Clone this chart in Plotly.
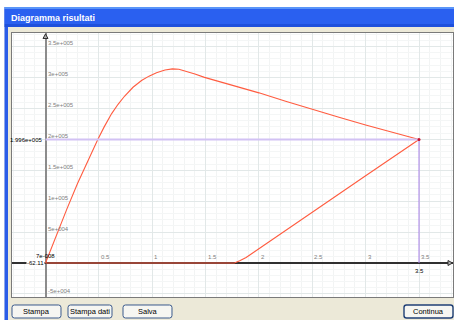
import plotly.graph_objects as go

W, H = 454, 320

# loading branch: displacement vs force
x_load = [0.00, 0.10, 0.20, 0.30, 0.40, 0.49, 0.55, 0.62, 0.68, 0.74, 0.82, 0.90,
          0.97, 1.04, 1.12, 1.19, 1.25, 1.32, 1.40, 1.49, 1.75, 2.00, 2.25, 2.50,
          2.75, 3.00, 3.25, 3.50]
y_load = [0, 44000, 87000, 128500, 167000, 199600, 220000, 241500, 256500, 269500,
          284000, 295000, 302000, 307500, 311800, 313800, 313200, 310000, 305500,
          300000, 287500, 275000, 261500, 248000, 235500, 223000, 211000, 199600]

# unloading branch back to the axis
x_unload = [3.50, 3.00, 2.50, 2.10, 2.02, 1.95, 1.88, 1.82, 1.77]
y_unload = [199600, 141000, 82000, 34000, 25000, 17000, 9000, 3500, 0]

base_level = -62.11
x_result = 3.5
y_result = 199600.0

x_ticks = [0.5, 1, 1.5, 2, 2.5, 3, 3.5]
x_tick_text = ["0.5", "1", "1.5", "2", "2.5", "3", "3.5"]
y_ticks = [350000, 300000, 250000, 200000, 150000, 100000, 50000, -50000]
y_tick_text = ["3.5e+005", "3e+005", "2.5e+005", "2e+005", "1.5e+005",
               "1e+005", "5e+004", "-5e+004"]
origin_text = "7e-008"

window_title = "Diagramma risultati"
button_labels = ["Stampa", "Stampa dati", "Salva", "Continua"]
button_spans = [(12, 61), (68, 112), (123, 172), (404, 453)]

# plot rectangle inside the dialog, in pixels
PL, PR, PT, PB = 12, 453, 33, 297
X0_PX, X_SCALE = 45.5, (419 - 45.5) / 3.5
Y0_PX, Y_SCALE = 263.0, (263.0 - 139.5) / 199600.0

x_range = [(PL - X0_PX) / X_SCALE, (PR - X0_PX) / X_SCALE]
y_range = [-(PB - Y0_PX) / Y_SCALE, (Y0_PX - PT) / Y_SCALE]


def px(x):
    return x / W


def py(y):
    return 1 - y / H


def rect(x0, y0, x1, y1, fill, line=None, lw=0):
    return dict(type="rect", xref="paper", yref="paper", x0=px(x0), x1=px(x1),
                y0=py(y1), y1=py(y0), fillcolor=fill,
                line=dict(color=line or fill, width=lw), layer="above")


def rrect_path(x0, y0, x1, y1, r):
    pts = [("M", x0 + r, y0), ("L", x1 - r, y0), ("Q", x1, y0, x1, y0 + r),
           ("L", x1, y1 - r), ("Q", x1, y1, x1 - r, y1), ("L", x0 + r, y1),
           ("Q", x0, y1, x0, y1 - r), ("L", x0, y0 + r), ("Q", x0, y0, x0 + r, y0)]
    out = []
    for p in pts:
        cmd, vals = p[0], p[1:]
        coords = []
        for i in range(0, len(vals), 2):
            coords.append(f"{px(vals[i]):.5f},{py(vals[i + 1]):.5f}")
        out.append(cmd + " ".join(coords))
    return " ".join(out) + " Z"


def tri_path(points):
    s = "M" + " L".join(f"{px(a):.5f},{py(b):.5f}" for a, b in points)
    return s + " Z"


fig = go.Figure()

# red response curve: load, unload, return along the base
curve_x = x_load + x_unload[1:] + [x_unload[-1], 0.0]
curve_y = y_load + y_unload[1:] + [base_level, base_level]
fig.add_trace(go.Scatter(x=curve_x, y=curve_y, mode="lines",
                         line=dict(color="#ff5c40", width=1.1), hoverinfo="skip"))

# result guides
fig.add_trace(go.Scatter(x=[0, x_result], y=[y_result, y_result], mode="lines",
                         line=dict(color="#d2c2f4", width=2), hoverinfo="skip"))
fig.add_trace(go.Scatter(x=[x_result, x_result], y=[0, y_result], mode="lines",
                         line=dict(color="#a880e8", width=1), hoverinfo="skip"))
fig.add_trace(go.Scatter(x=[x_result], y=[y_result], mode="markers",
                         marker=dict(color="#c8102e", size=3), hoverinfo="skip"))

shapes = []
# outer area, window frame and title bar
shapes.append(rect(0, 0, W, 7, "#ffffff"))
shapes.append(rect(0, 0, 4.5, H, "#ffffff"))
shapes.append(rect(4.5, 7, 8, H, "#2a5ce8"))
shapes.append(rect(4.5, 7, W, 9, "#5a95f8"))
shapes.append(rect(4.5, 9, W, 24, "#2a60f0"))
shapes.append(rect(4.5, 24, W, 27, "#1e50dc"))
# axis arrowheads
shapes.append(dict(type="path", xref="paper", yref="paper",
                   path=tri_path([(X0_PX, 34), (43, 38.5), (48, 38.5)]),
                   fillcolor="#b0b0b0", line=dict(color="#303030", width=1), layer="above"))
shapes.append(dict(type="path", xref="paper", yref="paper",
                   path=tri_path([(452.5, Y0_PX), (448, 260.5), (448, 265.5)]),
                   fillcolor="#b0b0b0", line=dict(color="#303030", width=1), layer="above"))
# buttons
for i, (bx0, bx1) in enumerate(button_spans):
    default = button_labels[i] == "Continua"
    shapes.append(dict(type="path", xref="paper", yref="paper",
                       path=rrect_path(bx0, 305, bx1, 318, 2.5),
                       fillcolor="#f6f6f2",
                       line=dict(color="#1f3f75" if default else "#3a5a8c", width=1.4 if default else 1),
                       layer="above"))

annotations = []
ann_font = dict(family="Liberation Sans, Arial, sans-serif", size=6, color="#808080")
for v, t in zip(x_ticks, x_tick_text):
    annotations.append(dict(x=v, y=0, xref="x", yref="y", text=t, showarrow=False,
                            xanchor="left", yanchor="bottom", yshift=1, font=ann_font))
for v, t in zip(y_ticks, y_tick_text):
    annotations.append(dict(x=0, y=v, xref="x", yref="y", text=t, showarrow=False,
                            xanchor="left", yanchor="bottom", xshift=0, yshift=-2,
                            font=ann_font))
blk = dict(family="Liberation Sans, Arial, sans-serif", size=6, color="#000000")
annotations.append(dict(x=0, y=0, xref="x", yref="y", text=origin_text, showarrow=False,
                        xanchor="center", yanchor="bottom", yshift=2, font=blk))
annotations.append(dict(x=0, y=y_result, xref="x", yref="y", text="1.996e+005",
                        showarrow=False, xanchor="right", yanchor="middle", xshift=-1,
                        font=blk))
annotations.append(dict(x=0, y=base_level, xref="x", yref="y", text="-62.11",
                        showarrow=False, xanchor="right", yanchor="middle", xshift=-1,
                        bgcolor="#ffffff", borderpad=0, font=blk))
annotations.append(dict(x=x_result, y=0, xref="x", yref="y", text="3.5", showarrow=False,
                        xanchor="center", yanchor="top", yshift=-3, font=blk))
# window title
annotations.append(dict(x=px(9), y=py(17.5), xref="paper", yref="paper", text=window_title,
                        showarrow=False, xanchor="left", yanchor="middle",
                        font=dict(family="Liberation Sans, Arial, sans-serif", size=9,
                                  color="#ffffff", weight="bold")))
# button captions
for (bx0, bx1), t in zip(button_spans, button_labels):
    annotations.append(dict(x=px((bx0 + bx1) / 2), y=py(311.5), xref="paper", yref="paper",
                            text=t, showarrow=False, xanchor="center", yanchor="middle",
                            font=dict(family="Liberation Sans, Arial, sans-serif", size=7.5,
                                      color="#000000")))

fig.update_layout(
    width=W, height=H, margin=dict(l=0, r=0, t=0, b=0),
    paper_bgcolor="#ece9d8", plot_bgcolor="#ffffff",
    showlegend=False, shapes=shapes, annotations=annotations,
    xaxis=dict(domain=[px(PL), px(PR)], range=x_range, showticklabels=False, ticks="",
               tick0=0, dtick=0.5, showgrid=True, gridcolor="#e2e8e8", gridwidth=1,
               minor=dict(dtick=0.1, showgrid=True, gridcolor="#f2f4f4"),
               zeroline=True, zerolinecolor="#8c8c8c", zerolinewidth=2,
               showline=True, mirror=True, linecolor="#7a7a7a", linewidth=1),
    yaxis=dict(domain=[py(PB), py(PT)], range=y_range, showticklabels=False, ticks="",
               tick0=0, dtick=50000, showgrid=True, gridcolor="#e2e8e8", gridwidth=1,
               minor=dict(dtick=10000, showgrid=True, gridcolor="#f4f6f6"),
               zeroline=True, zerolinecolor="#303030", zerolinewidth=1.5,
               showline=True, mirror=True, linecolor="#7a7a7a", linewidth=1),
)

fig.write_html("out.html")
